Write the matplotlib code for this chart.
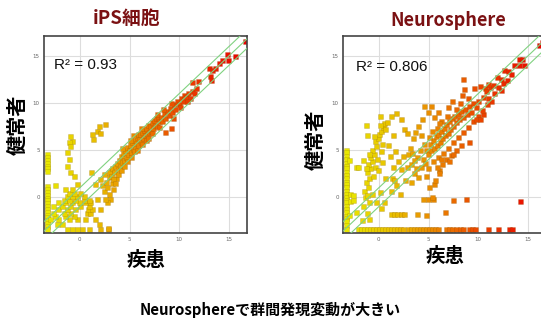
import matplotlib
matplotlib.use("Agg")
import matplotlib.pyplot as plt
from matplotlib.colors import LinearSegmentedColormap, Normalize
import numpy as np

# ---- data (x = 疾患, y = 健常者) ----
# iPS細胞 panel
ips_col_y = [4.5, 4.2, 3.9, 3.6, 3.3, 3.0, 2.7, 1.1, 0.8, 0.5, 0.2, -0.1, -0.4,
             -0.7, -1.0, -1.3, -1.6, -1.9, -2.2, -2.5, -2.8, -3.1, -3.4]
ips_pts = [
    (-1.24, -3.4), (-0.74, -3.4), (-0.23, -3.4), (0.27, -3.4), (0.94, -3.4), (2.1, -3.4), (2.85, -3.4),
    (-2.2, -2.9), (-1.7, -2.9), (2.0, -2.9),
    (-2.9, -2.4), (-2.1, -2.4), (-1.07, -2.4), (-0.23, -2.4), (0.6, -2.4), (1.6, -2.4),
    (-2.4, -2.0), (-1.4, -2.0), (-0.57, -2.0),
    (-2.6, -1.7), (-1.57, -1.7), (-0.9, -1.7), (0.77, -1.7), (1.1, -1.7),
    (-2.1, -1.3), (-1.24, -1.3), (-0.4, -1.3), (0.84, -1.3), (1.27, -1.3),
    (-2.6, -1.0), (-1.74, -1.0), (-0.9, -1.0), (0.1, -1.0), (0.94, -1.0),
    (-2.1, -0.6), (-1.4, -0.6), (-0.74, -0.6), (-0.07, -0.6), (0.6, -0.6), (1.1, -0.6),
    (-1.57, -0.3), (-1.07, -0.3), (-0.4, -0.3), (0.44, -0.3), (0.94, -0.3),
    (-1.24, 0.1), (-0.74, 0.1), (-0.23, 0.1), (0.44, 0.1),
    (-1.07, 0.4), (-0.57, 0.4), (0.1, 0.4),
    (-1.4, 0.8), (-0.74, 0.8), (-2.4, 1.2), (-0.23, 1.3),
    (-0.9, 6.46), (-0.74, 5.9), (-1.07, 5.75), (-0.9, 5.4), (-1.24, 4.7), (-1.07, 4.0),
    (-1.24, 3.3), (-0.9, 2.6), (-0.57, 2.2),
    (1.27, 6.6), (1.37, 6.1), (1.77, 7.0), (1.94, 7.5), (2.6, 7.7), (2.1, 6.8), (1.17, 2.6),
    (1.6, 1.3), (2.1, 1.9), (2.3, 1.2), (2.44, 0.6), (2.8, 1.0), (2.95, 0.3), (3.1, -0.25),
    (2.8, -0.6), (2.1, -1.3), (1.8, -0.2), (2.5, 2.4), (3.0, 2.1), (3.3, 1.5), (3.4, 0.8),
    (2.7, 1.6), (3.2, 2.8), (2.6, -0.2), (2.9, -3.3),
    (3.0, 2.6), (3.2, 2.2), (3.3, 3.0), (3.5, 2.6), (3.6, 3.3), (3.7, 2.0), (3.8, 3.6),
    (3.9, 2.9), (4.0, 3.9), (3.4, 1.9), (3.6, 1.4), (3.9, 2.4),
    (4.1, 3.3), (4.2, 4.3), (4.3, 3.7), (4.4, 4.6), (4.5, 3.9), (4.6, 4.9), (4.7, 4.2),
    (4.8, 5.3), (4.9, 4.5), (5.0, 5.0), (4.2, 2.8), (4.5, 3.3), (4.8, 3.8), (4.3, 5.2),
    (5.1, 5.5), (5.2, 4.7), (5.3, 5.8), (5.4, 5.1), (5.5, 6.0), (5.6, 5.3), (5.7, 5.7),
    (5.8, 6.3), (5.9, 5.5), (6.0, 6.1), (5.2, 4.2), (5.5, 4.8), (5.8, 5.0), (5.1, 6.0),
    (5.4, 6.5), (5.9, 6.7),
    (6.1, 6.6), (6.2, 5.8), (6.3, 6.9), (6.4, 6.2), (6.5, 7.1), (6.6, 6.5), (6.7, 7.3),
    (6.8, 6.7), (6.9, 7.6), (7.0, 6.9), (6.3, 5.6), (6.7, 6.0), (6.2, 7.3), (6.9, 6.2),
    (7.1, 7.5), (7.2, 7.0), (7.3, 7.9), (7.4, 7.3), (7.5, 8.1), (7.6, 7.6), (7.7, 8.3),
    (7.8, 7.5), (7.9, 8.4), (8.0, 8.0), (7.3, 6.8), (7.8, 8.8), (8.0, 7.4),
    (8.2, 8.5), (8.3, 8.0), (8.5, 8.9), (8.6, 8.3), (8.8, 9.1), (9.0, 8.7), (9.1, 9.4),
    (9.3, 9.0), (9.5, 9.8), (9.6, 9.3), (9.8, 10.2), (10.0, 9.8), (8.4, 9.3), (9.2, 9.9),
    (8.6, 6.9), (9.2, 7.3), (9.4, 8.4),
    (10.2, 10.5), (10.4, 10.1), (10.5, 10.8), (10.7, 10.6), (10.9, 11.0), (11.1, 10.5),
    (11.3, 11.2), (11.5, 11.0), (11.7, 11.5), (11.9, 12.3), (10.1, 9.5), (10.8, 10.2),
    (11.3, 12.2),
    (13.0, 13.6), (13.1, 12.8), (13.3, 13.4), (13.2, 12.4), (13.6, 13.6), (14.0, 14.2),
    (14.3, 14.5), (14.8, 15.1), (14.9, 14.5), (15.6, 14.9), (16.6, 16.5),
]

# Neurosphere panel
neuro_col_y = [5.0, 4.7, 4.3, 4.0, 3.6, 3.3, 3.0, 2.6, 2.3, 2.0, 1.6, 1.3, 1.0, 0.6,
               0.3, 0.0, -0.3, -0.6, -1.0, -1.3, -1.6, -2.0, -2.3, -2.6, -3.0, -3.4]
neuro_floor_x = [-2.0, -1.7, -1.4, -1.1, -0.8, -0.5, -0.2, 0.1, 0.4, 0.7, 1.0, 1.3, 1.6,
                 1.9, 2.2, 2.5, 3.0, 3.3, 3.6, 3.9, 4.2, 4.5, 4.8, 5.1, 5.4, 5.7, 6.0,
                 6.8, 7.1, 7.4, 7.8, 8.2, 8.5, 9.1, 9.4, 9.7, 11.0, 12.0, 13.1, 13.4]
neuro_pts = [
    (-2.9, 3.9), (-2.8, -0.5), (-2.9, -1.9), (-2.8, 0.3),
    (1.3, -1.8), (1.6, -1.8), (1.9, -1.8), (2.3, -1.8), (2.6, -1.8), (3.9, -1.8), (4.8, -1.9),
    (6.7, -1.65), (-1.1, -1.7), (-0.95, -2.4),
    (4.5, -0.2), (5.0, -0.2), (5.5, -0.2), (7.5, -0.4), (8.85, -0.2), (14.25, -0.5),
    (5.57, 1.35), (6.1, 2.8), (5.4, 0.0),
    (-1.5, -1.0), (-1.3, 0.0), (-1.4, 0.6), (-1.1, 0.2), (-1.0, 1.0), (-1.2, 1.6), (-0.9, 2.0),
    (-1.1, 2.6), (-0.8, 3.0), (-1.0, 3.5), (-0.6, 3.8), (-0.8, 4.2), (-0.4, 4.5), (-0.6, 5.0),
    (-0.2, 5.4), (-0.3, 5.9), (0.0, 6.2), (0.1, 6.7), (0.3, 7.0), (0.5, 7.4), (0.6, 7.8),
    (0.2, 7.6), (-1.2, 7.6), (-1.1, 6.5), (-2.2, 3.1), (-2.0, 3.2), (-1.5, 3.9), (-1.2, 3.0),
    (-0.9, 4.5), (-0.5, 2.2), (-0.3, 3.2), (-0.1, 4.0), (0.3, 4.8), (0.0, 2.8), (0.4, 3.7),
    (0.7, 2.0), (-0.6, 0.3), (-0.9, -0.6), (0.2, 0.5), (-0.2, -0.6), (0.6, -0.6), (0.3, -1.2),
    (-2.5, -0.4), (-2.2, -1.6), (-1.6, -2.5), (-2.5, 0.2), (-0.4, 6.4), (0.4, 5.6),
    (1.3, 8.6), (1.8, 8.9), (0.2, 8.6), (0.9, 7.9), (0.7, 7.2), (2.3, 8.2), (2.6, 7.2),
    (2.9, 6.8), (1.5, 6.5), (1.0, 5.5), (1.2, 4.3), (1.7, 4.8), (2.0, 3.8), (1.5, 3.2),
    (2.3, 2.9), (2.9, 3.2), (2.5, 4.3), (1.4, 2.0), (1.8, 1.2), (1.3, 0.6), (3.2, 5.2),
    (3.5, 6.2), (3.0, 4.5), (3.3, 3.5), (2.7, 1.8), (2.2, 0.3), (1.6, 1.8), (3.6, 2.5),
    (3.3, 1.6), (4.0, 2.1), (3.8, 3.0),
    (4.6, 9.6), (5.3, 9.6), (5.0, 9.0), (4.4, 8.2), (4.0, 7.5), (3.7, 6.9), (4.3, 6.5),
    (5.6, 8.5), (6.0, 9.0), (6.3, 8.0), (5.9, 7.3), (7.0, 9.5), (7.4, 10.1), (8.5, 12.5),
    (8.4, 10.8), (9.0, 10.5), (8.6, 11.4), (9.6, 11.5), (10.2, 11.7), (10.7, 11.5),
    (4.5, 4.0), (4.8, 5.0), (5.0, 4.5), (5.2, 5.6), (5.3, 4.9), (5.5, 6.0), (5.6, 5.2),
    (5.8, 6.4), (5.9, 5.5), (6.0, 6.7), (6.2, 5.8), (6.3, 7.0), (6.4, 6.2), (6.6, 7.3),
    (6.7, 6.5), (6.8, 7.7), (7.0, 6.8), (7.1, 8.0), (7.2, 7.2), (7.4, 8.3), (7.5, 7.5),
    (7.6, 8.6), (7.8, 7.9), (8.0, 8.8), (8.1, 8.2), (8.3, 9.1), (8.5, 8.5), (8.7, 9.3),
    (8.9, 8.8), (9.1, 9.6), (9.3, 9.0), (9.5, 9.9), (9.8, 9.5), (10.0, 10.2), (4.6, 5.6),
    (5.1, 6.3), (4.2, 4.9), (3.9, 4.2), (3.6, 3.9), (3.4, 4.6), (5.4, 7.0), (6.1, 7.8),
    (6.9, 8.6), (7.8, 9.3), (8.2, 9.9),
    (5.0, 3.0), (5.5, 3.8), (6.0, 4.2), (6.5, 4.6), (7.0, 5.2), (7.5, 5.8), (8.0, 6.3),
    (8.5, 6.9), (9.0, 7.4), (9.5, 8.0), (10.0, 8.6), (10.5, 8.8), (9.8, 8.2), (6.1, 2.5),
    (5.7, 1.8), (5.1, 1.0), (4.8, 2.2), (6.8, 4.0), (7.3, 4.4), (7.8, 5.0), (8.3, 5.5),
    (9.1, 5.8), (10.2, 8.2), (5.9, 3.1), (6.4, 3.5), (7.1, 3.8), (7.5, 4.5), (6.3, 4.0),
    (4.3, 3.2), (4.7, 3.6),
    (10.5, 10.6), (10.8, 11.2), (11.0, 10.5), (11.2, 11.6), (11.5, 11.9), (11.6, 11.0),
    (11.9, 12.7), (12.0, 11.6), (12.3, 12.5), (12.5, 12.1), (12.6, 13.4), (12.9, 12.4),
    (13.0, 13.3), (13.3, 13.0), (13.6, 14.0), (14.1, 14.0), (14.1, 14.6), (14.4, 14.6),
    (14.6, 14.0), (16.1, 16.1), (16.4, 16.4), (10.4, 9.2), (11.3, 10.1), (10.9, 9.8),
    (12.3, 11.3), (11.0, 12.0),
]

r2_ips = "R\u00b2 = 0.93"
r2_neuro = "R\u00b2 = 0.806"

# ---- assemble arrays ----
ips_x = np.array([-3.2] * len(ips_col_y) + [p[0] for p in ips_pts])
ips_y = np.array(ips_col_y + [p[1] for p in ips_pts])
neuro_x = np.array([-3.2] * len(neuro_col_y) + neuro_floor_x + [p[0] for p in neuro_pts])
neuro_y = np.array(neuro_col_y + [-3.4] * len(neuro_floor_x) + [p[1] for p in neuro_pts])

jp = ['Noto Sans CJK JP', 'DejaVu Sans']
title_col = '#7b1113'

cmap = LinearSegmentedColormap.from_list('yr', [(0, '#e8e800'), (0.25, '#e8bc00'),
                                                (0.45, '#ea8600'), (0.65, '#ea4c00'),
                                                (0.85, '#ea1c00'), (1, '#ea0000')])
norm = Normalize(-3.3, 16.5)

fig = plt.figure(figsize=(5.41, 3.24), dpi=100)

def panel(rect, xs, ys, r2, r2pos):
    ax = fig.add_axes(rect)
    ax.set_xlim(-3.6, 16.8)
    ax.set_ylim(-3.8, 17.1)
    ax.set_xticks([0, 5, 10, 15])
    ax.set_yticks([0, 5, 10, 15])
    ax.tick_params(length=0, labelsize=4, labelcolor='#666666', pad=3)
    ax.grid(color='#dddddd', linewidth=0.8)
    ax.set_axisbelow(True)
    for s in ax.spines.values():
        s.set_color('#444444')
        s.set_linewidth(1.2)
    ax.scatter(xs, ys, c=xs, cmap=cmap, norm=norm, marker='s', s=13,
               edgecolors=(0.45, 0.3, 0.0, 0.3), linewidths=0.4, zorder=2)
    line = np.array([-5, 20])
    for off in (-1, 0, 1):
        ax.plot(line, line + off, color='#80d280', linewidth=0.8, zorder=3)
    ax.text(r2pos[0], r2pos[1], r2, fontsize=11, family='Liberation Sans',
            ha='left', va='center', color='#111111')
    return ax

panel([44 / 541, 1 - 233 / 324, 203 / 541, 197 / 324], ips_x, ips_y, r2_ips, (-2.6, 14.06))
panel([343 / 541, 1 - 233 / 324, 203 / 541, 197 / 324], neuro_x, neuro_y, r2_neuro, (-2.3, 13.85))

# titles and labels
fig.text(127 / 541, 1 - 18 / 324, 'iPS細胞', family=jp, weight='bold', fontsize=13.5,
         color=title_col, ha='center', va='center')
fig.text(448 / 541, 1 - 20 / 324, 'Neurosphere', family=jp, weight='bold', fontsize=13,
         color=title_col, ha='center', va='center')
fig.text(17 / 541, 1 - 125 / 324, '健常者', family=jp, weight='bold', fontsize=14.5,
         rotation=90, ha='center', va='center')
fig.text(315 / 541, 1 - 140 / 324, '健常者', family=jp, weight='bold', fontsize=14.5,
         rotation=90, ha='center', va='center')
fig.text(146 / 541, 1 - 260 / 324, '疾患', family=jp, weight='bold', fontsize=14,
         ha='center', va='center')
fig.text(445 / 541, 1 - 256 / 324, '疾患', family=jp, weight='bold', fontsize=14,
         ha='center', va='center')
fig.text(270 / 541, 1 - 310 / 324, 'Neurosphereで群間発現変動が大きい', family=jp,
         weight='bold', fontsize=10.8, ha='center', va='center')

fig.savefig('out.png', dpi=100)
